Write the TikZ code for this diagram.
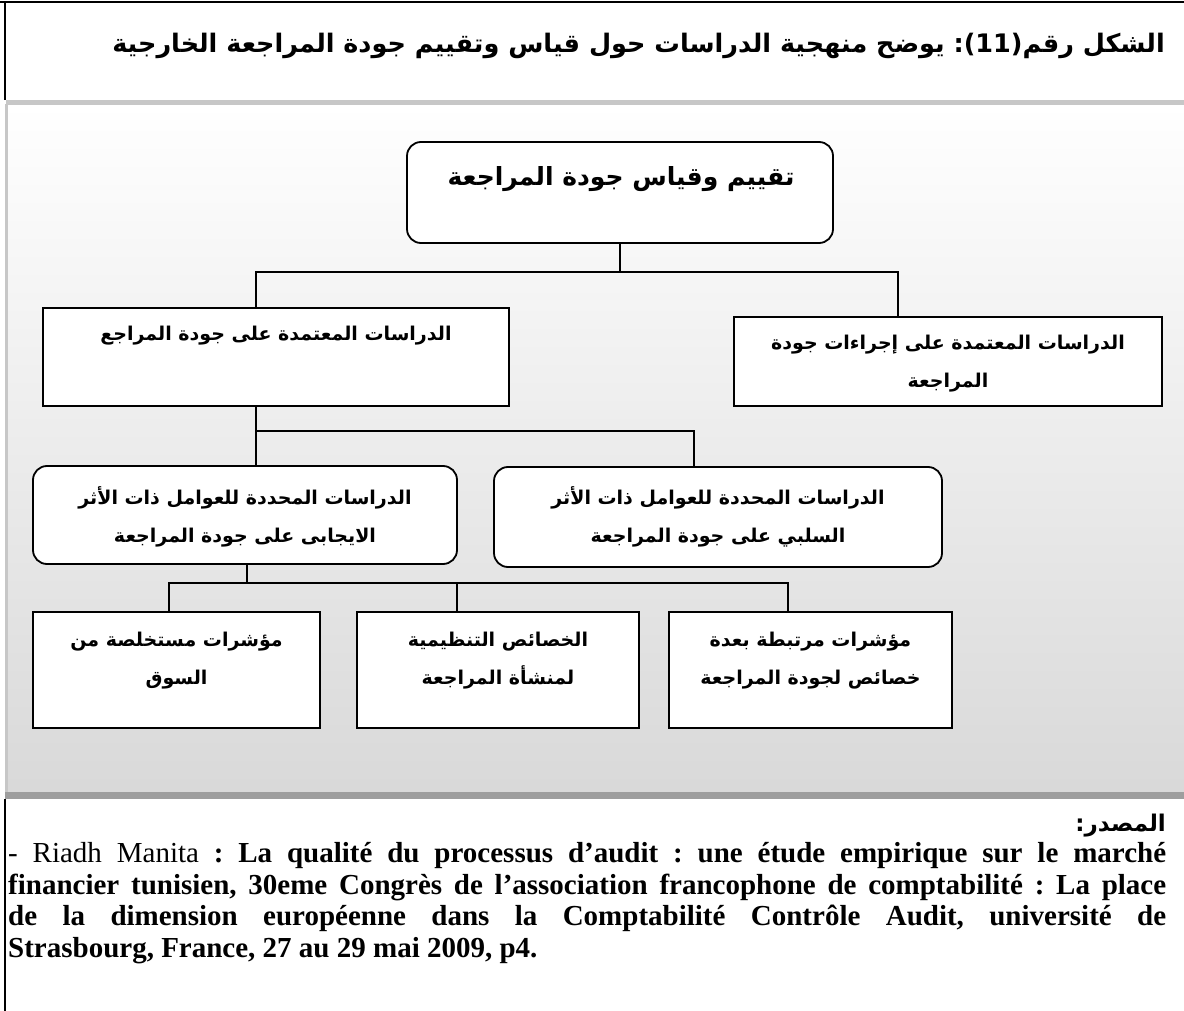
\documentclass[tikz,border=0pt]{standalone}
\usepackage{fontspec}
\setmainfont{Liberation Serif}
\newfontfamily\arabicfont[Script=Arabic]{DejaVu Sans}
\newfontfamily\ltrfont{DejaVu Sans}
\TeXXeTstate=1

\tikzset{
    sqbox/.style={draw, line width=1.8pt, fill=white, rectangle},
    rndbox/.style={sqbox, rounded corners=14pt},
    conn/.style={line width=1.3pt},
    boxtxt/.style={inner sep=0pt, align=center, font=\arabicfont\bfseries\fontsize{19}{38}\selectfont},
    headtxt/.style={boxtxt, font=\arabicfont\bfseries\fontsize{25}{30}\selectfont},
}

\begin{document}
\begin{tikzpicture}[x=1pt, y=-1pt]

    \useasboundingbox (0,0) rectangle (1184,1011);
    \fill[white] (0,0) rectangle (1184,1011);

    % shaded area of the figure
    \shade[top color=white, bottom color=black!15] (7,104) rectangle (1184,792);
    \fill[black!22] (6,100) rectangle (1184,105);
    \fill[black!22] (5,104) rectangle (8,795);
    \fill[black!38] (5,792) rectangle (1184,799);

    % frame lines
    \draw[line width=1.5pt] (0,2) -- (1184,2);
    \draw[line width=1.2pt] (5,2) -- (5,100) (5,799) -- (5,1011);

    % title
    \node[boxtxt, anchor=east, font=\arabicfont\bfseries\fontsize{25.5}{30}\selectfont] (title) at (1165,46)
        {\beginR الشكل رقم\beginL{\ltrfont\bfseries :(11)}\endL{} يوضح منهجية الدراسات حول قياس وتقييم جودة المراجعة الخارجية\endR};

    % boxes
    \node[rndbox, minimum width=426pt, minimum height=101pt] (evalBox) at (620,192.5) {};
    \node[sqbox, minimum width=466pt, minimum height=98pt] (audBox) at (276,357) {};
    \node[sqbox, minimum width=428pt, minimum height=89pt] (procBox) at (948,361.5) {};
    \node[rndbox, minimum width=424pt, minimum height=98pt] (posBox) at (245,515) {};
    \node[rndbox, minimum width=448pt, minimum height=100pt] (negBox) at (718,517) {};
    \node[sqbox, minimum width=287pt, minimum height=116pt] (mktBox) at (176.5,670) {};
    \node[sqbox, minimum width=282pt, minimum height=116pt] (orgBox) at (498,670) {};
    \node[sqbox, minimum width=283pt, minimum height=116pt] (indBox) at (810.5,670) {};

    % texts of the boxes
    \node[headtxt] (evalTxt) at (621,179) {\beginR تقييم وقياس جودة المراجعة\endR};
    \node[boxtxt] (audTxt) at (276,336) {\beginR الدراسات المعتمدة على جودة المراجع\endR};
    \node[boxtxt] (procTxt) at (948,364) {\beginR الدراسات المعتمدة على إجراءات جودة\endR\\\beginR المراجعة\endR};
    \node[boxtxt] (posTxt) at (245,517) {\beginR الدراسات المحددة للعوامل ذات الأثر\endR\\\beginR الايجابى على جودة المراجعة\endR};
    \node[boxtxt] (negTxt) at (718,517) {\beginR الدراسات المحددة للعوامل ذات الأثر\endR\\\beginR السلبي على جودة المراجعة\endR};
    \node[boxtxt] (mktTxt) at (176.5,661) {\beginR مؤشرات مستخلصة من\endR\\\beginR السوق\endR};
    \node[boxtxt] (orgTxt) at (498,661) {\beginR الخصائص التنظيمية\endR\\\beginR لمنشأة المراجعة\endR};
    \node[boxtxt] (indTxt) at (810.5,661) {\beginR مؤشرات مرتبطة بعدة\endR\\\beginR خصائص لجودة المراجعة\endR};

    % junctions
    \coordinate (kA1) at (256,272);
    \coordinate (kA2) at (898,272);
    \coordinate (kB1) at (256,431);
    \coordinate (kB2) at (694,431);
    \coordinate (kC0) at (247,583);
    \coordinate (kC1) at (169,583);
    \coordinate (kC2) at (457,583);
    \coordinate (kC3) at (788,583);

    % connectors
    \draw[conn] (evalBox.south) -- (evalBox.south |- kA1);
    \draw[conn] (audBox.north -| kA1) -- (kA1) -- (kA2) -- (procBox.north -| kA2);
    \draw[conn] (audBox.south -| kB1) -- (posBox.north -| kB1);
    \draw[conn] (kB1) -- (kB2) -- (negBox.north -| kB2);
    \draw[conn] (posBox.south -| kC0) -- (kC0);
    \draw[conn] (mktBox.north -| kC1) -- (kC1) -- (kC3) -- (indBox.north -| kC3);
    \draw[conn] (kC2) -- (orgBox.north -| kC2);

    % source
    \node[boxtxt, anchor=east, font=\arabicfont\bfseries\fontsize{23}{26}\selectfont] (srcHead) at (1166,826)
        {\beginR المصدر{\ltrfont\bfseries :}\endR};
    \node[anchor=north west, inner sep=0pt, text width=1158pt, align=justify,
          font=\frenchspacing\fontsize{29}{31.7}\selectfont] (srcTxt) at (8,842)
        {- Riadh Manita \textbf{: La qualité du processus d’audit : une étude empirique sur le marché\linebreak
        financier tunisien, 30eme Congrès de l’association francophone de comptabilité : La place\linebreak
        de la dimension européenne dans la Comptabilité Contrôle Audit, université de\linebreak
        Strasbourg, France, 27 au 29 mai 2009, p4.}};

\end{tikzpicture}
\end{document}
